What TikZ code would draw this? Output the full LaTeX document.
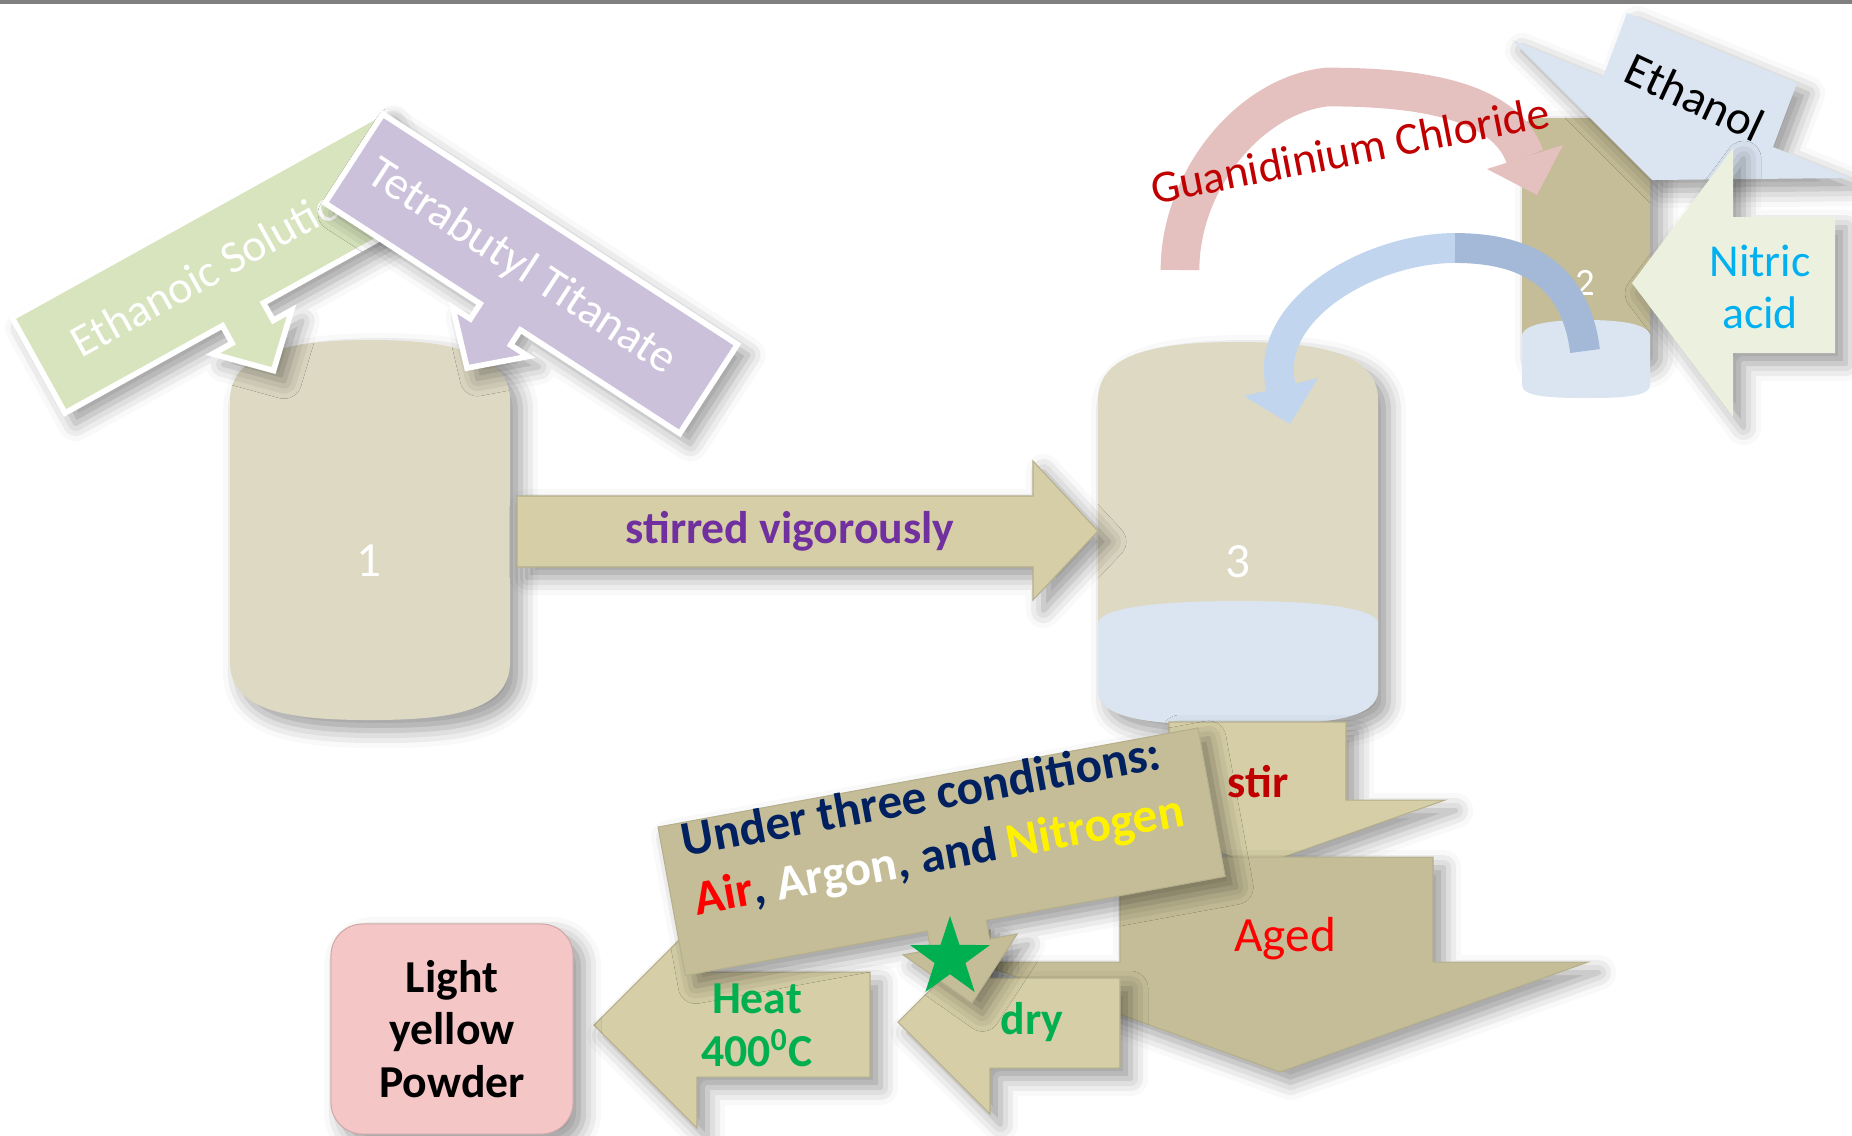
\documentclass[tikz,border=0pt]{standalone}
\usepackage{fontspec}
\setmainfont{Carlito}
\usetikzlibrary{shapes.geometric,shadows.blur}
\definecolor{tanbg}{HTML}{DDD9C3}
\definecolor{tandark}{HTML}{C4BD97}
\definecolor{tanlight}{HTML}{D5CEA6}
\definecolor{iceblue}{HTML}{DBE5F1}
\definecolor{leafgreen}{HTML}{D7E4BD}
\definecolor{lilac}{HTML}{CCC1DA}
\definecolor{cream}{HTML}{EBF1DE}
\definecolor{rosebox}{HTML}{F4C6C6}
\definecolor{rosearc}{HTML}{E4C0BF}
\definecolor{bluearc}{HTML}{C2D5EE}
\definecolor{bluearcdark}{HTML}{A4B9D7}
\definecolor{navytext}{HTML}{002060}
\definecolor{darkred}{HTML}{C00000}
\definecolor{cyantext}{HTML}{00B0F0}
\definecolor{greentext}{HTML}{00B050}
\definecolor{purpletext}{HTML}{7030A0}

\begin{document}
\begin{tikzpicture}[x=0.01cm, y=-0.01cm,
softshadow/.style={blur shadow={shadow xshift=3pt, shadow yshift=-3pt, shadow blur radius=5pt, shadow opacity=40}},
band/.style={draw=white, line width=1.6pt, line join=miter, softshadow},
block/.style={fill=tanlight, draw=tanlight!85!black, line width=0.3pt, softshadow},
num/.style={text=white, inner sep=0pt, font=\fontsize{14}{16}\selectfont},
lbl/.style={inner sep=0pt, font=\fontsize{13}{15}\selectfont},
boldlbl/.style={inner sep=0pt, align=center, font=\fontsize{13}{15}\selectfont\bfseries}]

\useasboundingbox (0,0) rectangle (1852,1135);

\draw[gray, line width=1.2pt] (0,2) -- (1852,2);

\fill[tanbg, softshadow] (230,400) .. controls (230,352) and (292,340) .. (370,340) .. controls (448,340) and (510,352) .. (510,400) -- (510,662) .. controls (510,712) and (448,720) .. (370,720) .. controls (292,720) and (230,712) .. (230,662) -- cycle;

\node[num] (one) at (369,561) {1};

\fill[tanbg, softshadow] (1098,400) .. controls (1098,352) and (1160,342) .. (1238,342) .. controls (1316,342) and (1378,352) .. (1378,400) -- (1378,690) .. controls (1378,718) and (1330,725) .. (1238,725) .. controls (1146,725) and (1098,718) .. (1098,690) -- cycle;

\fill[iceblue] (1098,622) .. controls (1104,606) and (1170,601) .. (1238,601) .. controls (1306,601) and (1372,606) .. (1378,622) -- (1378,690) .. controls (1378,718) and (1330,725) .. (1238,725) .. controls (1146,725) and (1098,718) .. (1098,690) -- cycle;

\node[num] (three) at (1238,562) {3};

\begin{scope}[shift={(65,413)}, rotate=29]
\filldraw[band, fill=leafgreen] (0,0) -- (180,0) -- (180,20) -- (158,20) -- (203,64) -- (248,20) -- (227,20) -- (227,0) -- (424,0) -- (424,-109) -- (0,-109) -- cycle;
\node[lbl, text=white, anchor=west, rotate=29, font=\fontsize{13}{16}\selectfont] (ethsol) at (40,-55) {Ethanoic Solution};
\end{scope}

\begin{scope}[shift={(325,203)}, rotate=-33]
\filldraw[band, fill=lilac] (0,0) -- (185,0) -- (185,18) -- (164,18) -- (209,61) -- (254,18) -- (233,18) -- (233,0) -- (423,0) -- (423,-106) -- (0,-106) -- cycle;
\node[lbl, text=white, rotate=-33, font=\fontsize{13.3}{16}\selectfont] (tbt) at (200,-53) {Tetrabutyl Titanate};
\end{scope}

\filldraw[block] (517,496) -- (1033,496) -- (1033,461) -- (1098,531) -- (1033,600) -- (1033,567) -- (517,567) -- cycle;

\node[boldlbl, text=purpletext] (stirred) at (790,531) {stirred vigorously};

\fill[tandark, softshadow, rounded corners=4pt] (1522,360) -- (1522,118) -- (1650,118) -- (1650,360) -- cycle;

\fill[iceblue] (1522,335) .. controls (1525,322) and (1560,320) .. (1586,320) .. controls (1612,320) and (1647,322) .. (1650,335) -- (1650,385) .. controls (1650,397) and (1620,398) .. (1586,398) .. controls (1552,398) and (1522,397) .. (1522,385) -- cycle;

\node[num, font=\fontsize{11}{13}\selectfont] (two) at (1585,283) {2};

\draw[rosearc, line width=11pt] (1180,270) .. controls (1180,180) and (1250,95) .. (1327,87) .. controls (1420,87) and (1505,100) .. (1525,157);

\fill[rosearc] (1563,145) -- (1537,195) -- (1487,169) -- cycle;

\node[lbl, text=darkred, rotate=11] (guan) at (1350,150) {Guanidinium Chloride};

\draw[bluearc, line width=8.5pt] (1455,248) .. controls (1370,248) and (1262,310) .. (1281,387);

\draw[bluearcdark, line width=8.5pt] (1585,351) .. controls (1575,270) and (1520,248) .. (1455,248);

\fill[bluearc] (1318,378) -- (1290,424) -- (1244,396) -- cycle;

\fill[iceblue, softshadow] (1512,40) -- (1603,77) -- (1627,13) -- (1797,83) -- (1773,147) -- (1850,178) -- (1652,180) -- cycle;

\node[lbl, rotate=-25, font=\fontsize{13.5}{16}\selectfont] (ethanol) at (1695,97) {Ethanol};

\fill[cream, softshadow] (1632,283) -- (1733,148) -- (1733,217) -- (1835,217) -- (1835,353) -- (1733,353) -- (1733,417) -- cycle;

\node[lbl, text=cyantext, align=center] (nitric) at (1760,287) {Nitric\\acid};

\filldraw[block] (1169,722) -- (1346,722) -- (1346,800) -- (1445,800) -- (1258,866) -- (1071,800) -- (1169,800) -- cycle;

\filldraw[block, fill=tandark] (1120,857) -- (1433,857) -- (1433,962) -- (1588,962) -- (1280,1072) -- (975,962) -- (1120,962) -- cycle;

\filldraw[block] (594,1025) -- (697,922) -- (697,972) -- (870,972) -- (870,1077) -- (697,1077) -- (697,1128) -- cycle;

\filldraw[block] (898,1022) -- (990,930) -- (990,978) -- (1120,978) -- (1120,1068) -- (990,1068) -- (990,1114) -- cycle;

\begin{scope}[shift={(658,827)}, rotate=10.4]
\filldraw[block, fill=tandark] (0,0) -- (549,0) -- (549,151) -- (306,151) -- (306,170) -- (334,170) -- (277,230) -- (218,170) -- (246,170) -- (246,151) -- (0,151) -- cycle;
\node[boldlbl, anchor=base west, rotate=10.4, font=\fontsize{14}{17}\selectfont\bfseries] (condA) at (20,34) {\textcolor{navytext}{Under three conditions:}};
\node[boldlbl, anchor=base west, rotate=10.4, font=\fontsize{14}{17}\selectfont\bfseries] (condB) at (22,94) {\textcolor{red}{Air}\textcolor{navytext}{, }\textcolor{white}{Argon}\textcolor{navytext}{, and }\textcolor{yellow}{Nitrogen}};
\end{scope}

\node[star, star points=5, star point ratio=2.6, fill=greentext, inner sep=0pt, minimum size=0.84cm] (starmark) at (950,958) {};

\node[boldlbl, text=darkred] (stir) at (1258,782) {stir};

\node[lbl, text=red, font=\fontsize{14}{16}\selectfont] (aged) at (1285,939) {Aged};

\node[boldlbl, text=greentext] (heat) at (757,1025) {Heat\\400\textsuperscript{0}C};

\node[boldlbl, text=greentext] (dry) at (1032,1022) {dry};

\node[fill=rosebox, draw=rosebox!85!black, line width=0.3pt, rounded corners=9pt, minimum width=2.42cm, minimum height=2.1cm, softshadow, align=center, font=\fontsize{13}{15}\selectfont\bfseries] (powder) at (452,1029) {Light\\yellow\\Powder};

\end{tikzpicture}
\end{document}
